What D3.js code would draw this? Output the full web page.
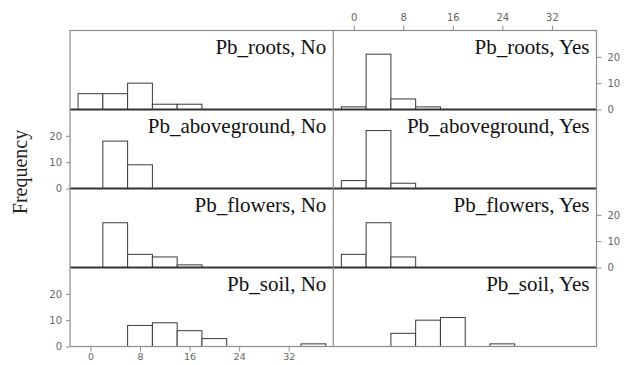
<!DOCTYPE html>
<html>
<head>
<meta charset="utf-8">
<script src="https://cdn.jsdelivr.net/npm/d3@7"></script>
<style>
  html, body { margin: 0; padding: 0; background: #fff; }
  svg { display: block; }
</style>
</head>
<body>
<script>
// Histogram bins: lower edges, each bin is 4 units wide
const binEdges = [-2, 2, 6, 10, 14, 18, 22, 26, 30, 34];
const binWidth = 4;

// Counts per bin, one array per tissue / group
const rootsNo        = [6, 6, 10, 2, 2, 0, 0, 0, 0, 0];
const rootsYes       = [1, 21, 4, 1, 0, 0, 0, 0, 0, 0];
const abovegroundNo  = [0, 18, 9, 0, 0, 0, 0, 0, 0, 0];
const abovegroundYes = [3, 22, 2, 0, 0, 0, 0, 0, 0, 0];
const flowersNo      = [0, 17, 5, 4, 1, 0, 0, 0, 0, 0];
const flowersYes     = [5, 17, 4, 0, 0, 0, 0, 0, 0, 0];
const soilNo         = [0, 0, 8, 9, 6, 3, 0, 0, 0, 1];
const soilYes        = [0, 0, 5, 10, 11, 0, 1, 0, 0, 0];

const rowNames = ["Pb_roots", "Pb_aboveground", "Pb_flowers", "Pb_soil"];
const colNames = ["No", "Yes"];
const xTicks = [0, 8, 16, 24, 32];
const yTicks = [0, 10, 20];

const panelCounts = [
  [rootsNo, rootsYes],
  [abovegroundNo, abovegroundYes],
  [flowersNo, flowersYes],
  [soilNo, soilYes]
];

// Layout
const W = 630, H = 365;
const frameL = 70, frameMid = 333.3, frameR = 596.5;
const frameT = 30.5, rowH = 79;
const colX = [frameL, frameMid];
const colW = [frameMid - frameL, frameR - frameMid];

const svg = d3.select("body").append("svg")
  .attr("width", W).attr("height", H);

const xScales = colX.map((x0, i) =>
  d3.scaleLinear().domain([-3.3, 39.2]).range([x0, x0 + colW[i]]));
const yScales = rowNames.map((_, r) =>
  d3.scaleLinear().domain([0, 30]).range([frameT + (r + 1) * rowH, frameT + r * rowH]));

const frameColor = "#8c8c8c";
const tickFont = "'DejaVu Sans', Verdana, sans-serif";
const serifFont = "'Liberation Serif', 'Times New Roman', serif";

// Bars and panel titles
rowNames.forEach((rn, r) => {
  colNames.forEach((cn, c) => {
    const x = xScales[c], y = yScales[r];
    const bins = binEdges.map((e, i) => ({ x0: e, x1: e + binWidth, n: panelCounts[r][c][i] }))
      .filter(d => d.n > 0);
    svg.append("g")
      .selectAll("rect")
      .data(bins)
      .join("rect")
      .attr("x", d => x(d.x0))
      .attr("width", d => x(d.x1) - x(d.x0))
      .attr("y", d => y(d.n))
      .attr("height", d => y(0) - y(d.n))
      .attr("fill", "#fff")
      .attr("stroke", "#3a3a3a")
      .attr("stroke-width", 1);

    svg.append("text")
      .attr("x", colX[c] + colW[c] - 7)
      .attr("y", frameT + r * rowH + 23.5)
      .attr("text-anchor", "end")
      .attr("font-family", serifFont)
      .attr("font-size", 21)
      .attr("fill", "#111")
      .text(`${rn}, ${cn}`);
  });
});

// Zero baselines between stacked rows
[0, 1, 2].forEach(r => {
  const yb = yScales[r](0);
  svg.append("line")
    .attr("x1", frameL).attr("x2", frameR)
    .attr("y1", yb).attr("y2", yb)
    .attr("stroke", "#333").attr("stroke-width", 2);
});

// Outer frame and column divider
svg.append("rect")
  .attr("x", frameL).attr("y", frameT)
  .attr("width", frameR - frameL).attr("height", 4 * rowH)
  .attr("fill", "none").attr("stroke", frameColor).attr("stroke-width", 1.2);
svg.append("line")
  .attr("x1", frameMid).attr("x2", frameMid)
  .attr("y1", frameT).attr("y2", frameT + 4 * rowH)
  .attr("stroke", frameColor).attr("stroke-width", 1.2);

function styleAxis(g) {
  g.select(".domain").remove();
  g.selectAll(".tick line").attr("stroke", frameColor);
  g.selectAll(".tick text")
    .attr("fill", "#666")
    .attr("font-family", tickFont)
    .attr("font-size", 10);
}

// Bottom axis under the left column, top axis above the right column
svg.append("g")
  .attr("transform", `translate(0,${frameT + 4 * rowH})`)
  .call(d3.axisBottom(xScales[0]).tickValues(xTicks).tickSize(5).tickPadding(2))
  .call(styleAxis)
  .call(g => g.selectAll(".tick text").attr("font-size", 9.5));
svg.append("g")
  .attr("transform", `translate(0,${frameT})`)
  .call(d3.axisTop(xScales[1]).tickValues(xTicks).tickSize(5).tickPadding(5))
  .call(styleAxis);

// Frequency axes alternate between left and right sides
[1, 3].forEach(r => {
  svg.append("g")
    .attr("transform", `translate(${frameL},0)`)
    .call(d3.axisLeft(yScales[r]).tickValues(yTicks).tickSize(4).tickPadding(4))
    .call(styleAxis);
});
[0, 2].forEach(r => {
  svg.append("g")
    .attr("transform", `translate(${frameR},0)`)
    .call(d3.axisRight(yScales[r]).tickValues(yTicks).tickSize(5).tickPadding(6))
    .call(styleAxis);
});

// Shared y label
svg.append("text")
  .attr("transform", "translate(27,172) rotate(-90)")
  .attr("text-anchor", "middle")
  .attr("font-family", serifFont)
  .attr("font-size", 20)
  .attr("fill", "#222")
  .text("Frequency");
</script>
</body>
</html>
